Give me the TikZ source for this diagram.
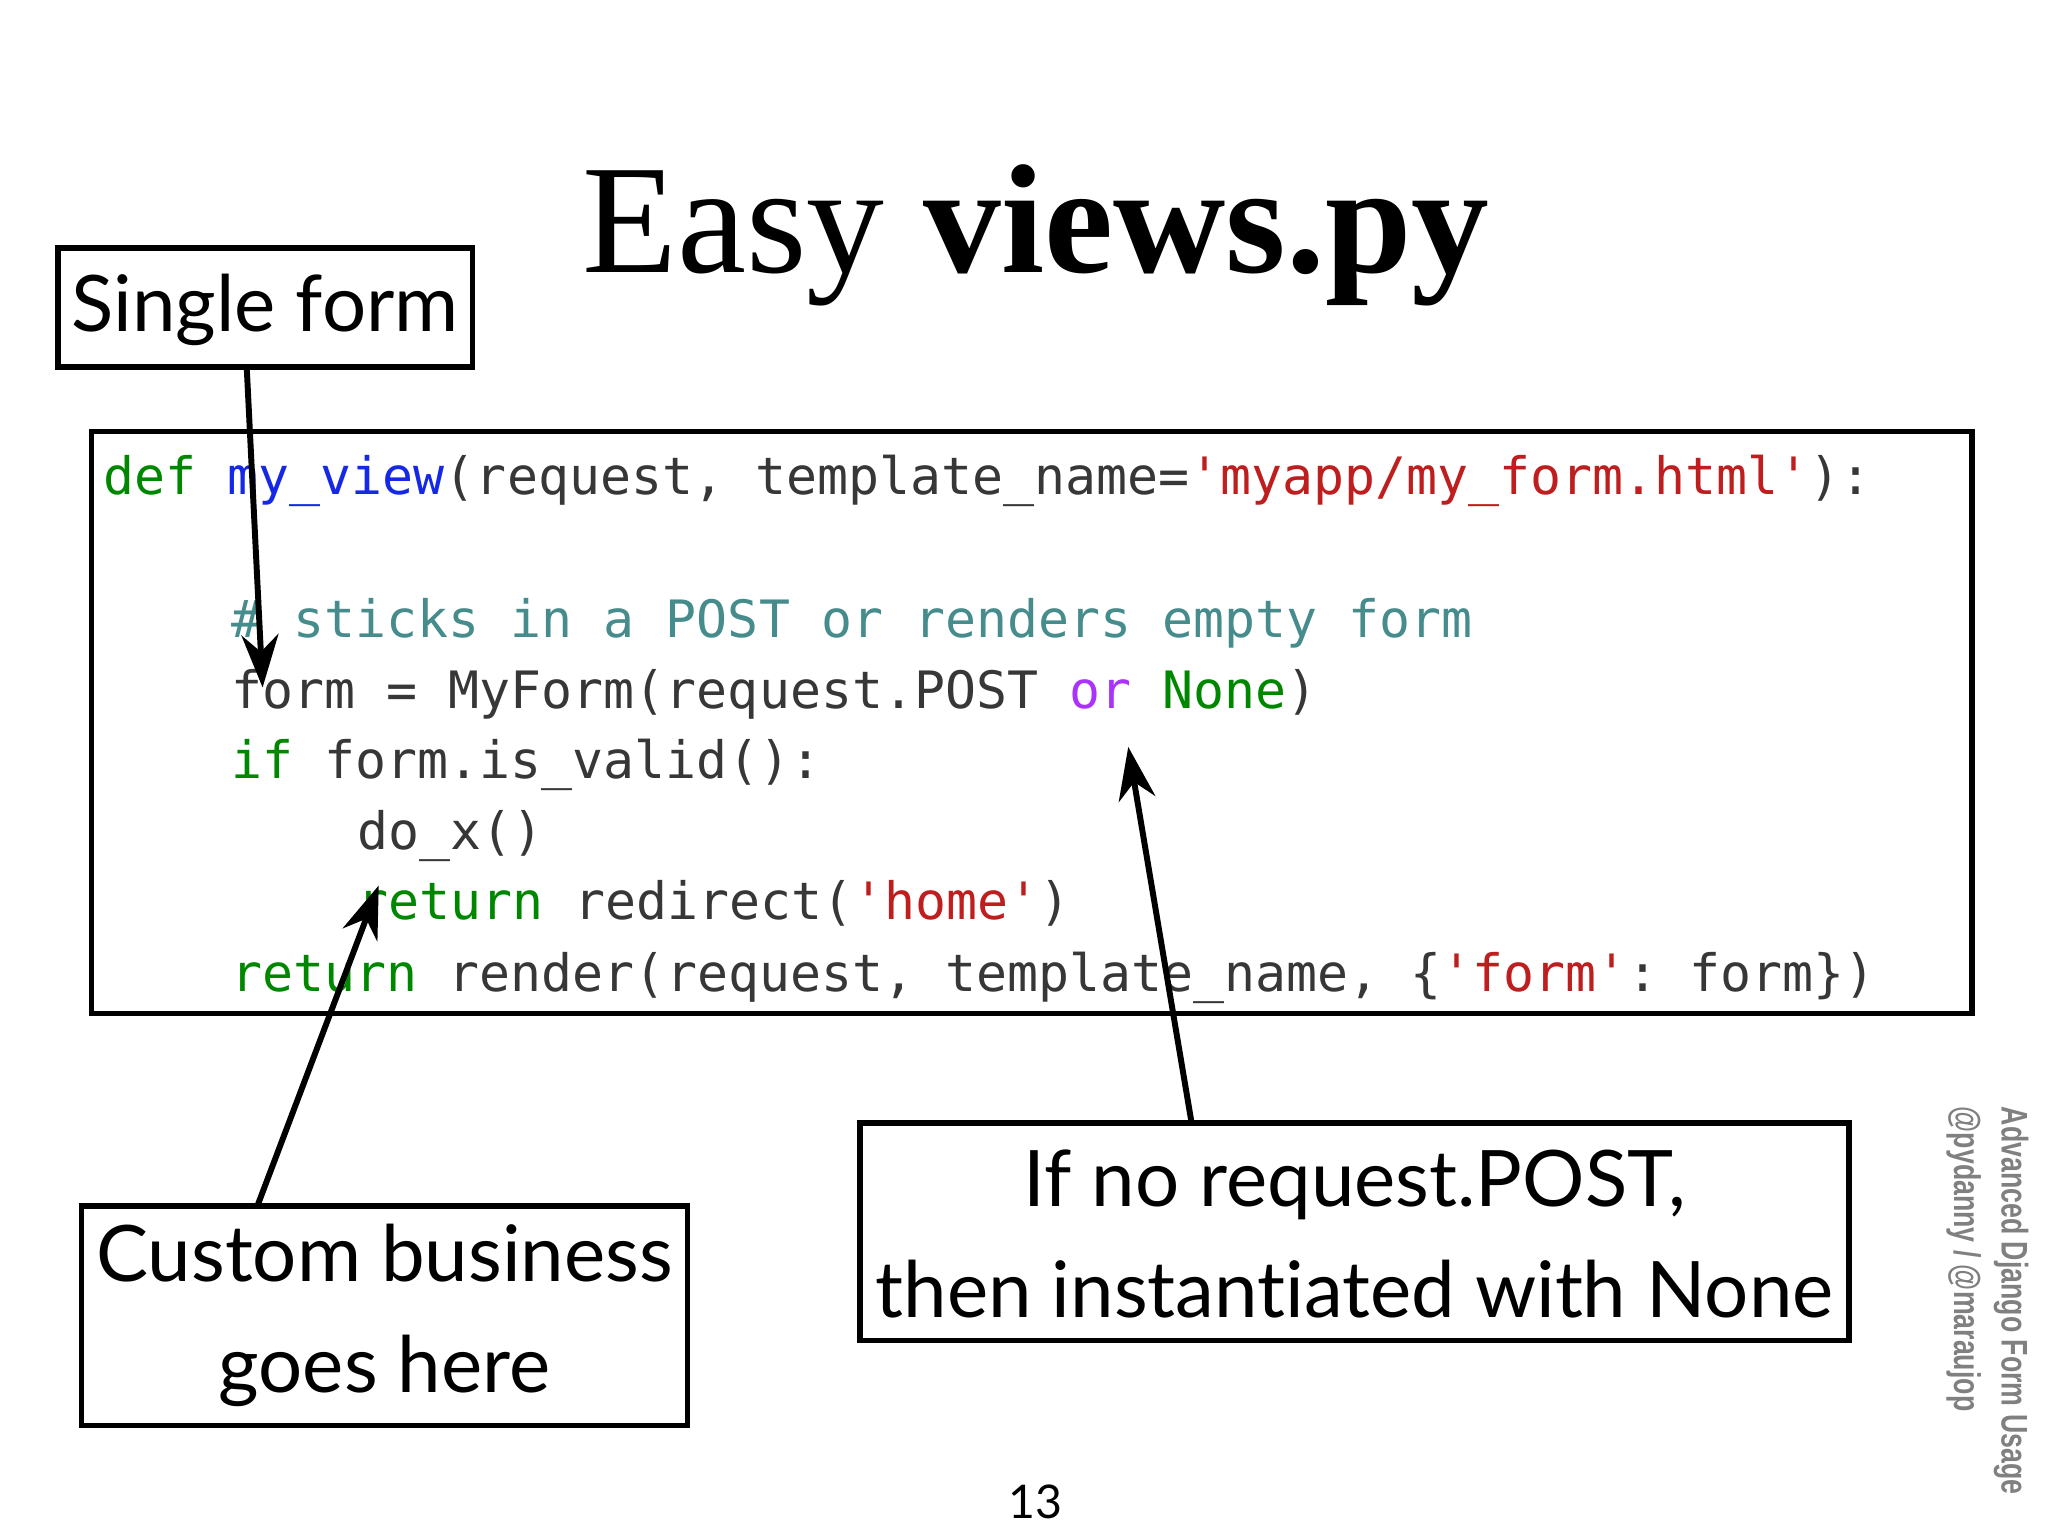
\documentclass[tikz,border=0pt]{standalone}
\usepackage{fontspec}
\setmainfont{Liberation Serif}
\newfontfamily\boxfont[Ligatures=NoCommon]{Lato}
\newfontfamily\sidefont{Liberation Sans}
\setmonofont{DejaVu Sans Mono}
\usetikzlibrary{arrows.meta}
\definecolor{kw}{RGB}{0,135,0}
\definecolor{fn}{RGB}{20,40,230}
\definecolor{st}{RGB}{190,30,30}
\definecolor{cm}{RGB}{70,140,140}
\definecolor{pu}{RGB}{170,50,250}
\definecolor{tx}{RGB}{55,55,55}
\begin{document}
\begin{tikzpicture}[x=0.01cm,y=-0.01cm,
  frame/.style={draw,line width=0.4mm,inner sep=0pt},
  lbl/.style={font=\boxfont\fontsize{16.8}{22}\selectfont,align=center},
  code/.style={anchor=base west,inner sep=0pt,font=\ttfamily\fontsize{11.1}{13}\selectfont,text=tx},
  arr/.style={-{Stealth[length=4mm,width=2.8mm]},line width=0.45mm},
  side/.style={rotate=-90,anchor=north west,inner sep=0pt,text=gray,font=\sidefont\bfseries\fontsize{8}{10}\selectfont}]
\useasboundingbox (0,0) rectangle (1552,1164);
\fill[white] (0,0) rectangle (1552,1164);
\node (title) at (785,178) {\fontsize{33.5}{38}\selectfont Easy \textbf{views.py}};
% boxes
\node[frame,minimum width=3.14cm,minimum height=0.9cm] (single) at (201,233) {};
\node[lbl] (singlet) at (201,235) {Single form};
\node[frame,minimum width=14.24cm,minimum height=4.41cm] (codebox) at (782,547.5) {};
\node[frame,minimum width=4.59cm,minimum height=1.66cm] (custom) at (291.5,997) {};
\node[lbl] (customt) at (291.5,997) {Custom business\\[2pt]goes here};
\node[frame,minimum width=7.49cm,minimum height=1.65cm] (ifno) at (1026.5,933.5) {};
\node[lbl] (ifnot) at (1026.5,935) {If no request.POST,\\[2pt]then instantiated with None};
% code
\node[code] (l1) at (78,375) {\textcolor{kw}{def} \textcolor{fn}{my\_view}(request, template\_name=\textcolor{st}{'myapp/my\_form.html'}):};
\node[code] (l2) at (175,483) {\textcolor{cm}{\# sticks in a POST or renders empty form}};
\node[code] (l3) at (175,537) {form = MyForm(request.POST \textcolor{pu}{or} \textcolor{kw}{None})};
\node[code] (l4) at (175,590) {\textcolor{kw}{if} form.is\_valid():};
\node[code] (l5) at (270,644) {do\_x()};
\node[code] (l6) at (270,697) {\textcolor{kw}{return} redirect(\textcolor{st}{'home'})};
\node[code] (l7) at (175,751) {\textcolor{kw}{return} render(request, template\_name, \{\textcolor{st}{'form'}: form\})};
% arrows
\coordinate (a1s) at (187,279);
\coordinate (a1e) at (199,521);
\coordinate (a2s) at (195,914);
\coordinate (a2e) at (287,671);
\coordinate (a3s) at (903,851);
\coordinate (a3e) at (855,566);
\draw[arr] (a1s) -- (a1e);
\draw[arr] (a2s) -- (a2e);
\draw[arr] (a3s) -- (a3e);
% side
\node[side] (side1) at (1538,838) {\scalebox{0.72}[1]{Advanced Django Form Usage}};
\node[side] (side2) at (1502,838) {\scalebox{0.72}[1]{@pydanny / @maraujop}};
\node[font=\boxfont\fontsize{10}{12}\selectfont] (page) at (785,1138) {13};
\end{tikzpicture}
\end{document}
